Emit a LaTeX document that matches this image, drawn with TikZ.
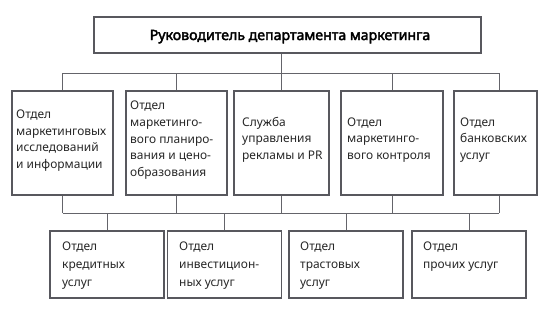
\documentclass[tikz,border=0pt]{standalone}
\usepackage{fontspec}
\setmainfont{Noto Sans}
\newfontfamily\headfont{Noto Sans}[FakeBold=2.6]
\definecolor{boxline}{RGB}{88,88,94}
\definecolor{connline}{RGB}{100,100,106}
\definecolor{txtcol}{RGB}{40,40,40}
\begin{document}
\begin{tikzpicture}[x=1bp,y=-1bp,
  box/.style={draw=boxline, line width=1.3bp, fill=white, inner sep=0pt, minimum height=104bp},
  lowbox/.style={draw=boxline, line width=1.3bp, fill=white, inner sep=0pt, minimum height=67bp, minimum width=114bp},
  conn/.style={draw=connline, line width=1bp},
  midtxt/.style={inner sep=0pt, anchor=base west, align=left, text=txtcol, font=\fontsize{12}{16.7}\selectfont},
  lowtxt/.style={inner sep=0pt, anchor=base west, align=left, text=txtcol, font=\fontsize{12}{17.7}\selectfont}]
\useasboundingbox (0,0) rectangle (551,313);
\fill[white] (0,0) rectangle (551,313);

% top box
\node[draw=boxline, line width=1.3bp, inner sep=0pt, minimum width=387bp, minimum height=36bp] (top) at (287.5,35) {};
\node[inner sep=0pt, anchor=base, text=black, font=\headfont\fontsize{14.2}{16}\selectfont] (toptxt) at (290,40) {Руководитель департамента маркетинга};

% middle boxes
\node[box, minimum width=101bp] (A) at (62.5,143) {};
\node[box, minimum width=101bp] (B) at (176.5,143) {};
\node[box, minimum width=95bp] (C) at (281.5,143) {};
\node[box, minimum width=102bp] (D) at (392,143) {};
\node[box, minimum width=83bp] (E) at (495.5,143) {};

% text anchors are at the baseline of the last line
\node[midtxt] (At) at (16,168.5) {Отдел\\маркетинговых\\исследований\\и информации};
\node[midtxt] (Bt) at (130,176.5) {Отдел\\маркетинго-\\вого планиро-\\вания и цено-\\образования};
\node[midtxt] (Ct) at (242,159.4) {Служба\\управления\\рекламы и PR};
\node[midtxt] (Dt) at (347,159.4) {Отдел\\маркетинго-\\вого контроля};
\node[midtxt] (Et) at (460,159.4) {Отдел\\банковских\\услуг};

% bottom boxes
\node[lowbox] (F) at (107,264.5) {};
\node[lowbox] (G) at (224.5,264.5) {};
\node[lowbox] (H) at (346,264.5) {};
\node[lowbox] (I) at (469,264.5) {};

\node[lowtxt] (Ft) at (62,286.1) {Отдел\\кредитных\\услуг};
\node[lowtxt] (Gt) at (179,286.1) {Отдел\\инвестицион-\\ных услуг};
\node[lowtxt] (Ht) at (300,286.1) {Отдел\\трастовых\\услуг};
\node[lowtxt] (It) at (423,268.4) {Отдел\\прочих услуг};

% buses
\coordinate (bt) at (0,73);
\coordinate (bb) at (0,213);
\coordinate (Etop) at ([xshift=3.5bp]E.north);
\coordinate (Ebot) at ([xshift=3.5bp]E.south);

\draw[conn] (top.south -| C.north) -- (C.north |- bt);
\draw[conn] (A.north |- bt) -- (Etop |- bt);
\foreach \n in {A,B,C,D} { \draw[conn] (\n.north |- bt) -- (\n.north); }
\draw[conn] (Etop |- bt) -- (Etop);

\draw[conn] (A.south |- bb) -- (Ebot |- bb);
\foreach \n in {A,B,C,D} { \draw[conn] (\n.south) -- (\n.south |- bb); }
\draw[conn] (Ebot) -- (Ebot |- bb);
\foreach \n in {F,G,H,I} { \draw[conn] (\n.north |- bb) -- (\n.north); }
\end{tikzpicture}
\end{document}
